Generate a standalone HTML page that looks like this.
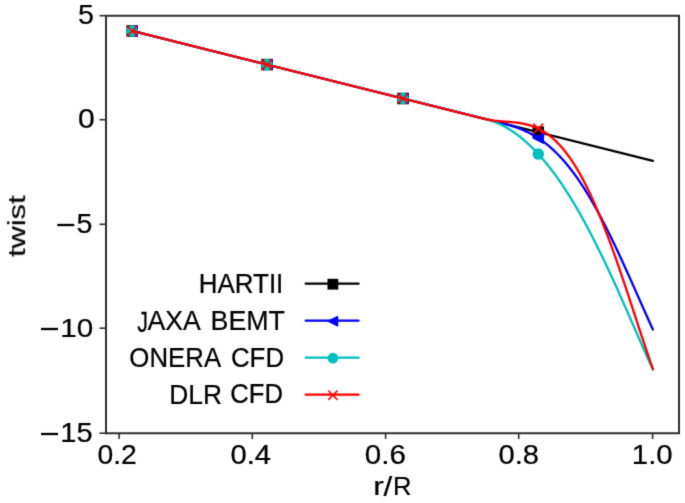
<!DOCTYPE html>
<html><head><meta charset="utf-8"><style>html,body{margin:0;padding:0;background:#fff;overflow:hidden}svg{display:block}text{font-family:"Liberation Sans",sans-serif}</style></head>
<body><svg width="685" height="503" viewBox="0 0 685 503">
<defs><filter id="bl" x="0" y="0" width="685" height="503" filterUnits="userSpaceOnUse" color-interpolation-filters="sRGB"><feConvolveMatrix order="3" kernelMatrix="0.01440 0.09120 0.01440 0.09120 0.57760 0.09120 0.01440 0.09120 0.01440" edgeMode="duplicate"/></filter></defs>
<g filter="url(#bl)"><rect width="685" height="503" fill="#fff"/>
<g><polyline points="132.20,30.98 652.90,160.79" fill="none" stroke="#000000" stroke-width="2.3" stroke-linejoin="round" stroke-linecap="round"/><rect x="127.20" y="25.98" width="10.00" height="10.00" fill="#000000" stroke="#000000" stroke-width="1.5" stroke-linejoin="miter"/><rect x="262.05" y="59.59" width="10.00" height="10.00" fill="#000000" stroke="#000000" stroke-width="1.5" stroke-linejoin="miter"/><rect x="398.00" y="93.49" width="10.00" height="10.00" fill="#000000" stroke="#000000" stroke-width="1.5" stroke-linejoin="miter"/><rect x="533.30" y="127.22" width="10.00" height="10.00" fill="#000000" stroke="#000000" stroke-width="1.5" stroke-linejoin="miter"/><polyline points="132.20,30.98 491.98,120.67 492.48,120.79 492.98,120.92 493.48,121.04 493.98,121.16 494.48,121.29 494.98,121.41 495.48,121.53 495.98,121.66 496.48,121.78 496.98,121.90 497.48,122.03 497.98,122.15 498.48,122.28 498.98,122.40 499.48,122.53 499.98,122.65 500.48,122.78 500.98,122.91 501.48,123.04 501.98,123.16 502.48,123.29 502.98,123.42 503.48,123.56 503.98,123.69 504.48,123.82 504.98,123.96 505.48,124.09 505.98,124.23 506.48,124.37 506.98,124.51 507.48,124.65 507.98,124.79 508.48,124.94 508.98,125.08 509.48,125.23 509.98,125.38 510.48,125.53 510.98,125.68 511.48,125.84 511.98,125.99 512.48,126.15 512.98,126.31 513.48,126.47 513.98,126.64 514.48,126.81 514.98,126.97 515.48,127.15 515.98,127.32 516.48,127.50 516.98,127.67 517.48,127.86 517.98,128.04 518.48,128.23 518.98,128.41 519.48,128.61 519.98,128.80 520.48,129.00 520.98,129.20 521.48,129.40 521.98,129.60 522.48,129.81 522.98,130.02 523.48,130.24 523.98,130.46 524.48,130.68 524.98,130.90 525.48,131.13 525.98,131.36 526.48,131.59 526.98,131.83 527.48,132.07 527.98,132.31 528.48,132.56 528.98,132.81 529.48,133.07 529.98,133.32 530.48,133.59 530.98,133.85 531.48,134.12 531.98,134.39 532.48,134.67 532.98,134.95 533.48,135.23 533.98,135.52 534.48,135.81 534.98,136.11 535.48,136.41 535.98,136.71 536.48,137.02 536.98,137.33 537.48,137.65 537.98,137.97 538.48,138.30 538.98,138.62 539.48,138.96 539.98,139.29 540.48,139.64 540.98,139.98 541.48,140.33 541.98,140.69 542.48,141.05 542.98,141.41 543.48,141.78 543.98,142.15 544.48,142.53 544.98,142.91 545.48,143.30 545.98,143.69 546.48,144.08 546.98,144.48 547.48,144.89 547.98,145.30 548.48,145.71 548.98,146.13 549.48,146.56 549.98,146.99 550.48,147.42 550.98,147.86 551.48,148.30 551.98,148.75 552.48,149.20 552.98,149.66 553.48,150.12 553.98,150.59 554.48,151.07 554.98,151.54 555.48,152.03 555.98,152.51 556.48,153.01 556.98,153.51 557.48,154.01 557.98,154.52 558.48,155.03 558.98,155.55 559.48,156.07 559.98,156.60 560.48,157.14 560.98,157.68 561.48,158.22 561.98,158.77 562.48,159.33 562.98,159.89 563.48,160.45 563.98,161.02 564.48,161.60 564.98,162.18 565.48,162.76 565.98,163.36 566.48,163.95 566.98,164.55 567.48,165.16 567.98,165.77 568.48,166.39 568.98,167.01 569.48,167.64 569.98,168.28 570.48,168.92 570.98,169.56 571.48,170.21 571.98,170.86 572.48,171.52 572.98,172.19 573.48,172.86 573.98,173.54 574.48,174.22 574.98,174.90 575.48,175.60 575.98,176.29 576.48,176.99 576.98,177.70 577.48,178.42 577.98,179.13 578.48,179.86 578.98,180.58 579.48,181.32 579.98,182.06 580.48,182.80 580.98,183.55 581.48,184.31 581.98,185.07 582.48,185.83 582.98,186.60 583.48,187.38 583.98,188.16 584.48,188.94 584.98,189.73 585.48,190.53 585.98,191.33 586.48,192.13 586.98,192.94 587.48,193.76 587.98,194.58 588.48,195.41 588.98,196.24 589.48,197.07 589.98,197.91 590.48,198.76 590.98,199.61 591.48,200.46 591.98,201.32 592.48,202.19 592.98,203.06 593.48,203.93 593.98,204.81 594.48,205.70 594.98,206.58 595.48,207.48 595.98,208.38 596.48,209.28 596.98,210.18 597.48,211.10 597.98,212.01 598.48,212.93 598.98,213.86 599.48,214.79 599.98,215.72 600.48,216.66 600.98,217.60 601.48,218.55 601.98,219.50 602.48,220.46 602.98,221.42 603.48,222.38 603.98,223.35 604.48,224.32 604.98,225.30 605.48,226.28 605.98,227.26 606.48,228.25 606.98,229.24 607.48,230.23 607.98,231.23 608.48,232.24 608.98,233.24 609.48,234.26 609.98,235.27 610.48,236.29 610.98,237.31 611.48,238.33 611.98,239.36 612.48,240.40 612.98,241.43 613.48,242.47 613.98,243.51 614.48,244.56 614.98,245.60 615.48,246.66 615.98,247.71 616.48,248.77 616.98,249.83 617.48,250.89 617.98,251.96 618.48,253.03 618.98,254.10 619.48,255.17 619.98,256.25 620.48,257.33 620.98,258.41 621.48,259.50 621.98,260.58 622.48,261.67 622.98,262.76 623.48,263.86 623.98,264.95 624.48,266.05 624.98,267.15 625.48,268.25 625.98,269.36 626.48,270.46 626.98,271.57 627.48,272.68 627.98,273.79 628.48,274.90 628.98,276.02 629.48,277.13 629.98,278.25 630.48,279.37 630.98,280.49 631.48,281.61 631.98,282.73 632.48,283.85 632.98,284.97 633.48,286.10 633.98,287.22 634.48,288.35 634.98,289.47 635.48,290.60 635.98,291.73 636.48,292.85 636.98,293.98 637.48,295.11 637.98,296.24 638.48,297.37 638.98,298.50 639.48,299.62 639.98,300.75 640.48,301.88 640.98,303.01 641.48,304.13 641.98,305.26 642.48,306.38 642.98,307.51 643.48,308.63 643.98,309.76 644.48,310.88 644.98,312.00 645.48,313.12 645.98,314.24 646.48,315.36 646.98,316.47 647.48,317.59 647.98,318.70 648.48,319.81 648.98,320.92 649.48,322.03 649.98,323.13 650.48,324.24 650.98,325.34 651.48,326.43 651.98,327.53 652.48,328.62 652.90,329.54" fill="none" stroke="#0000ff" stroke-width="2.3" stroke-linejoin="round" stroke-linecap="round"/><polygon points="127.20,30.98 137.20,25.98 137.20,35.98" fill="#0000ff" stroke="#0000ff" stroke-width="1.5" stroke-linejoin="round"/><polygon points="262.05,64.59 272.05,59.59 272.05,69.59" fill="#0000ff" stroke="#0000ff" stroke-width="1.5" stroke-linejoin="round"/><polygon points="398.00,98.49 408.00,93.49 408.00,103.49" fill="#0000ff" stroke="#0000ff" stroke-width="1.5" stroke-linejoin="round"/><polygon points="533.30,138.18 543.30,133.18 543.30,143.18" fill="#0000ff" stroke="#0000ff" stroke-width="1.5" stroke-linejoin="round"/><polyline points="132.20,30.98 486.08,119.20 486.58,119.32 487.08,119.45 487.58,119.59 488.08,119.73 488.58,119.87 489.08,120.02 489.58,120.17 490.08,120.32 490.58,120.48 491.08,120.65 491.58,120.81 492.08,120.98 492.58,121.16 493.08,121.34 493.58,121.52 494.08,121.71 494.58,121.90 495.08,122.10 495.58,122.29 496.08,122.50 496.58,122.70 497.08,122.92 497.58,123.13 498.08,123.35 498.58,123.57 499.08,123.80 499.58,124.03 500.08,124.27 500.58,124.51 501.08,124.75 501.58,125.00 502.08,125.25 502.58,125.50 503.08,125.76 503.58,126.02 504.08,126.29 504.58,126.56 505.08,126.84 505.58,127.11 506.08,127.40 506.58,127.68 507.08,127.97 507.58,128.27 508.08,128.57 508.58,128.87 509.08,129.18 509.58,129.49 510.08,129.80 510.58,130.12 511.08,130.44 511.58,130.77 512.08,131.10 512.58,131.43 513.08,131.77 513.58,132.11 514.08,132.46 514.58,132.81 515.08,133.16 515.58,133.52 516.08,133.89 516.58,134.25 517.08,134.62 517.58,135.00 518.08,135.37 518.58,135.76 519.08,136.14 519.58,136.53 520.08,136.93 520.58,137.33 521.08,137.73 521.58,138.14 522.08,138.55 522.58,138.96 523.08,139.38 523.58,139.80 524.08,140.23 524.58,140.66 525.08,141.09 525.58,141.53 526.08,141.97 526.58,142.42 527.08,142.87 527.58,143.33 528.08,143.79 528.58,144.25 529.08,144.72 529.58,145.19 530.08,145.66 530.58,146.14 531.08,146.63 531.58,147.11 532.08,147.61 532.58,148.10 533.08,148.60 533.58,149.10 534.08,149.61 534.58,150.12 535.08,150.64 535.58,151.16 536.08,151.69 536.58,152.21 537.08,152.75 537.58,153.28 538.08,153.82 538.58,154.37 539.08,154.92 539.58,155.47 540.08,156.03 540.58,156.59 541.08,157.16 541.58,157.73 542.08,158.30 542.58,158.88 543.08,159.46 543.58,160.05 544.08,160.64 544.58,161.23 545.08,161.83 545.58,162.43 546.08,163.04 546.58,163.65 547.08,164.27 547.58,164.89 548.08,165.51 548.58,166.14 549.08,166.77 549.58,167.41 550.08,168.05 550.58,168.69 551.08,169.34 551.58,169.99 552.08,170.65 552.58,171.31 553.08,171.98 553.58,172.65 554.08,173.32 554.58,174.00 555.08,174.68 555.58,175.36 556.08,176.05 556.58,176.75 557.08,177.45 557.58,178.15 558.08,178.86 558.58,179.57 559.08,180.28 559.58,181.00 560.08,181.72 560.58,182.45 561.08,183.18 561.58,183.92 562.08,184.66 562.58,185.40 563.08,186.15 563.58,186.90 564.08,187.66 564.58,188.42 565.08,189.18 565.58,189.95 566.08,190.72 566.58,191.50 567.08,192.28 567.58,193.06 568.08,193.85 568.58,194.65 569.08,195.44 569.58,196.24 570.08,197.05 570.58,197.86 571.08,198.67 571.58,199.49 572.08,200.31 572.58,201.13 573.08,201.96 573.58,202.79 574.08,203.63 574.58,204.47 575.08,205.32 575.58,206.17 576.08,207.02 576.58,207.87 577.08,208.73 577.58,209.60 578.08,210.47 578.58,211.34 579.08,212.21 579.58,213.09 580.08,213.98 580.58,214.87 581.08,215.76 581.58,216.65 582.08,217.55 582.58,218.45 583.08,219.36 583.58,220.27 584.08,221.18 584.58,222.10 585.08,223.02 585.58,223.95 586.08,224.87 586.58,225.81 587.08,226.74 587.58,227.68 588.08,228.62 588.58,229.57 589.08,230.52 589.58,231.47 590.08,232.43 590.58,233.39 591.08,234.36 591.58,235.32 592.08,236.29 592.58,237.27 593.08,238.25 593.58,239.23 594.08,240.21 594.58,241.20 595.08,242.19 595.58,243.19 596.08,244.18 596.58,245.18 597.08,246.19 597.58,247.20 598.08,248.21 598.58,249.22 599.08,250.24 599.58,251.26 600.08,252.28 600.58,253.31 601.08,254.33 601.58,255.37 602.08,256.40 602.58,257.44 603.08,258.48 603.58,259.52 604.08,260.57 604.58,261.62 605.08,262.67 605.58,263.73 606.08,264.78 606.58,265.84 607.08,266.91 607.58,267.97 608.08,269.04 608.58,270.11 609.08,271.18 609.58,272.26 610.08,273.34 610.58,274.42 611.08,275.50 611.58,276.58 612.08,277.67 612.58,278.76 613.08,279.85 613.58,280.95 614.08,282.04 614.58,283.14 615.08,284.24 615.58,285.35 616.08,286.45 616.58,287.56 617.08,288.66 617.58,289.77 618.08,290.89 618.58,292.00 619.08,293.11 619.58,294.23 620.08,295.35 620.58,296.47 621.08,297.59 621.58,298.72 622.08,299.84 622.58,300.97 623.08,302.09 623.58,303.22 624.08,304.35 624.58,305.49 625.08,306.62 625.58,307.75 626.08,308.89 626.58,310.02 627.08,311.16 627.58,312.30 628.08,313.43 628.58,314.57 629.08,315.71 629.58,316.85 630.08,317.99 630.58,319.14 631.08,320.28 631.58,321.42 632.08,322.56 632.58,323.71 633.08,324.85 633.58,326.00 634.08,327.14 634.58,328.28 635.08,329.43 635.58,330.57 636.08,331.72 636.58,332.86 637.08,334.00 637.58,335.15 638.08,336.29 638.58,337.43 639.08,338.57 639.58,339.72 640.08,340.86 640.58,342.00 641.08,343.14 641.58,344.27 642.08,345.41 642.58,346.55 643.08,347.68 643.58,348.82 644.08,349.95 644.58,351.08 645.08,352.22 645.58,353.34 646.08,354.47 646.58,355.60 647.08,356.72 647.58,357.85 648.08,358.97 648.58,360.09 649.08,361.20 649.58,362.32 650.08,363.43 650.58,364.54 651.08,365.65 651.58,366.76 652.08,367.86 652.58,368.96 652.90,369.67" fill="none" stroke="#00bfbf" stroke-width="2.3" stroke-linejoin="round" stroke-linecap="round"/><circle cx="132.20" cy="30.98" r="5.00" fill="#00bfbf" stroke="#00bfbf" stroke-width="1.5"/><circle cx="267.05" cy="64.59" r="5.00" fill="#00bfbf" stroke="#00bfbf" stroke-width="1.5"/><circle cx="403.00" cy="98.49" r="5.00" fill="#00bfbf" stroke="#00bfbf" stroke-width="1.5"/><circle cx="538.30" cy="154.07" r="5.00" fill="#00bfbf" stroke="#00bfbf" stroke-width="1.5"/><polyline points="132.20,30.98 485.38,119.02 485.88,119.14 486.38,119.26 486.88,119.38 487.38,119.49 487.88,119.59 488.38,119.69 488.88,119.79 489.38,119.89 489.88,119.98 490.38,120.06 490.88,120.15 491.38,120.23 491.88,120.31 492.38,120.38 492.88,120.45 493.38,120.52 493.88,120.59 494.38,120.65 494.88,120.72 495.38,120.78 495.88,120.83 496.38,120.89 496.88,120.94 497.38,120.99 497.88,121.04 498.38,121.09 498.88,121.14 499.38,121.18 499.88,121.23 500.38,121.27 500.88,121.31 501.38,121.35 501.88,121.39 502.38,121.43 502.88,121.47 503.38,121.51 503.88,121.54 504.38,121.58 504.88,121.62 505.38,121.65 505.88,121.69 506.38,121.73 506.88,121.76 507.38,121.80 507.88,121.84 508.38,121.87 508.88,121.91 509.38,121.95 509.88,121.99 510.38,122.03 510.88,122.08 511.38,122.12 511.88,122.16 512.38,122.21 512.88,122.25 513.38,122.30 513.88,122.35 514.38,122.41 514.88,122.46 515.38,122.51 515.88,122.57 516.38,122.63 516.88,122.69 517.38,122.76 517.88,122.82 518.38,122.89 518.88,122.96 519.38,123.04 519.88,123.11 520.38,123.19 520.88,123.28 521.38,123.36 521.88,123.45 522.38,123.54 522.88,123.64 523.38,123.74 523.88,123.84 524.38,123.94 524.88,124.05 525.38,124.17 525.88,124.28 526.38,124.40 526.88,124.53 527.38,124.66 527.88,124.79 528.38,124.93 528.88,125.07 529.38,125.21 529.88,125.36 530.38,125.52 530.88,125.68 531.38,125.84 531.88,126.01 532.38,126.19 532.88,126.37 533.38,126.55 533.88,126.74 534.38,126.93 534.88,127.13 535.38,127.34 535.88,127.55 536.38,127.76 536.88,127.99 537.38,128.21 537.88,128.45 538.38,128.68 538.88,128.93 539.38,129.18 539.88,129.44 540.38,129.70 540.88,129.97 541.38,130.24 541.88,130.52 542.38,130.81 542.88,131.10 543.38,131.40 543.88,131.71 544.38,132.02 544.88,132.34 545.38,132.67 545.88,133.00 546.38,133.34 546.88,133.69 547.38,134.04 547.88,134.40 548.38,134.77 548.88,135.15 549.38,135.53 549.88,135.92 550.38,136.31 550.88,136.72 551.38,137.13 551.88,137.55 552.38,137.97 552.88,138.41 553.38,138.85 553.88,139.30 554.38,139.75 554.88,140.22 555.38,140.69 555.88,141.17 556.38,141.65 556.88,142.15 557.38,142.65 557.88,143.16 558.38,143.68 558.88,144.21 559.38,144.74 559.88,145.29 560.38,145.84 560.88,146.40 561.38,146.96 561.88,147.54 562.38,148.12 562.88,148.72 563.38,149.32 563.88,149.92 564.38,150.54 564.88,151.17 565.38,151.80 565.88,152.44 566.38,153.09 566.88,153.75 567.38,154.42 567.88,155.10 568.38,155.78 568.88,156.48 569.38,157.18 569.88,157.89 570.38,158.61 570.88,159.34 571.38,160.07 571.88,160.82 572.38,161.57 572.88,162.33 573.38,163.11 573.88,163.89 574.38,164.67 574.88,165.47 575.38,166.28 575.88,167.09 576.38,167.92 576.88,168.75 577.38,169.59 577.88,170.44 578.38,171.30 578.88,172.16 579.38,173.04 579.88,173.92 580.38,174.82 580.88,175.72 581.38,176.63 581.88,177.55 582.38,178.48 582.88,179.41 583.38,180.36 583.88,181.31 584.38,182.28 584.88,183.25 585.38,184.23 585.88,185.21 586.38,186.21 586.88,187.22 587.38,188.23 587.88,189.25 588.38,190.28 588.88,191.32 589.38,192.37 589.88,193.43 590.38,194.49 590.88,195.56 591.38,196.64 591.88,197.73 592.38,198.83 592.88,199.94 593.38,201.05 593.88,202.17 594.38,203.30 594.88,204.44 595.38,205.58 595.88,206.74 596.38,207.90 596.88,209.07 597.38,210.25 597.88,211.43 598.38,212.62 598.88,213.82 599.38,215.03 599.88,216.25 600.38,217.47 600.88,218.70 601.38,219.94 601.88,221.18 602.38,222.44 602.88,223.70 603.38,224.96 603.88,226.24 604.38,227.52 604.88,228.80 605.38,230.10 605.88,231.40 606.38,232.71 606.88,234.02 607.38,235.34 607.88,236.67 608.38,238.01 608.88,239.35 609.38,240.69 609.88,242.05 610.38,243.41 610.88,244.77 611.38,246.14 611.88,247.52 612.38,248.90 612.88,250.29 613.38,251.68 613.88,253.08 614.38,254.49 614.88,255.90 615.38,257.31 615.88,258.73 616.38,260.16 616.88,261.59 617.38,263.03 617.88,264.46 618.38,265.91 618.88,267.36 619.38,268.81 619.88,270.27 620.38,271.73 620.88,273.20 621.38,274.67 621.88,276.14 622.38,277.62 622.88,279.10 623.38,280.58 623.88,282.07 624.38,283.56 624.88,285.05 625.38,286.55 625.88,288.05 626.38,289.55 626.88,291.06 627.38,292.56 627.88,294.07 628.38,295.59 628.88,297.10 629.38,298.61 629.88,300.13 630.38,301.65 630.88,303.17 631.38,304.69 631.88,306.21 632.38,307.74 632.88,309.26 633.38,310.79 633.88,312.31 634.38,313.84 634.88,315.37 635.38,316.89 635.88,318.42 636.38,319.94 636.88,321.47 637.38,322.99 637.88,324.52 638.38,326.04 638.88,327.56 639.38,329.09 639.88,330.60 640.38,332.12 640.88,333.64 641.38,335.15 641.88,336.66 642.38,338.17 642.88,339.68 643.38,341.18 643.88,342.69 644.38,344.18 644.88,345.68 645.38,347.17 645.88,348.66 646.38,350.14 646.88,351.62 647.38,353.09 647.88,354.57 648.38,356.03 648.88,357.49 649.38,358.95 649.88,360.40 650.38,361.84 650.88,363.28 651.38,364.72 651.88,366.14 652.38,367.56 652.88,368.98 652.90,369.05" fill="none" stroke="#ff0000" stroke-width="2.3" stroke-linejoin="round" stroke-linecap="round"/><path d="M127.20,25.98L137.20,35.98M127.20,35.98L137.20,25.98" stroke="#ff0000" stroke-width="1.60" fill="none" stroke-linecap="butt"/><path d="M262.05,59.59L272.05,69.59M262.05,69.59L272.05,59.59" stroke="#ff0000" stroke-width="1.60" fill="none" stroke-linecap="butt"/><path d="M398.00,93.49L408.00,103.49M398.00,103.49L408.00,93.49" stroke="#ff0000" stroke-width="1.60" fill="none" stroke-linecap="butt"/><path d="M533.30,123.65L543.30,133.65M533.30,133.65L543.30,123.65" stroke="#ff0000" stroke-width="1.60" fill="none" stroke-linecap="butt"/><path d="M106.0,14.8V434.3M679.0,14.8V434.3M105.0,15.8H680.0M105.0,433.3H680.0" stroke="#2e2e2e" stroke-width="2.0" fill="none"/><line x1="99.5" y1="15.7" x2="106.0" y2="15.7" stroke="#2e2e2e" stroke-width="1.6"/><line x1="99.5" y1="119.7" x2="106.0" y2="119.7" stroke="#2e2e2e" stroke-width="1.6"/><line x1="99.5" y1="224.3" x2="106.0" y2="224.3" stroke="#2e2e2e" stroke-width="1.6"/><line x1="99.5" y1="328.2" x2="106.0" y2="328.2" stroke="#2e2e2e" stroke-width="1.6"/><line x1="99.5" y1="433.2" x2="106.0" y2="433.2" stroke="#2e2e2e" stroke-width="1.6"/><line x1="119.1" y1="433.3" x2="119.1" y2="439.0" stroke="#2e2e2e" stroke-width="1.6"/><line x1="252.3" y1="433.3" x2="252.3" y2="439.0" stroke="#2e2e2e" stroke-width="1.6"/><line x1="385.6" y1="433.3" x2="385.6" y2="439.0" stroke="#2e2e2e" stroke-width="1.6"/><line x1="518.7" y1="433.3" x2="518.7" y2="439.0" stroke="#2e2e2e" stroke-width="1.6"/><line x1="652.6" y1="433.3" x2="652.6" y2="439.0" stroke="#2e2e2e" stroke-width="1.6"/></g>
<g style="will-change:transform" font-family="Liberation Sans" font-size="200" fill="#000" stroke="#000" stroke-width="1.8"><text transform="translate(77.955,23.727) scale(0.14316,0.13643)" >5</text><text transform="translate(77.996,127.731) scale(0.15053,0.13451)" >0</text><text transform="translate(76.555,232.531) scale(0.14316,0.13429)" >5</text><text transform="translate(60.180,336.834) scale(0.14800,0.13310)" >10</text><text transform="translate(60.222,442.029) scale(0.14523,0.13571)" >15</text><text transform="translate(97.468,463.730) scale(0.14154,0.13521)" >0.2</text><text transform="translate(230.533,463.730) scale(0.14583,0.13521)" >0.4</text><text transform="translate(364.820,463.730) scale(0.14751,0.13521)" >0.6</text><text transform="translate(498.535,463.730) scale(0.14559,0.13521)" >0.8</text><text transform="translate(631.794,463.730) scale(0.14706,0.13521)" >1.0</text><text transform="translate(373.146,494.500) scale(0.15800,0.13148)" >r</text><text transform="translate(383.600,496.022) scale(0.15636,0.13878)" >/</text><text transform="translate(392.953,494.500) scale(0.12797,0.13261)" >R</text><text transform="translate(24.767,256.861) scale(0.11633,0.15354) rotate(-90)">twist</text><text transform="translate(198.724,292.700) scale(0.12977,0.13696)" >HARTII</text><text transform="translate(137.278,332.297) scale(0.10732,0.15143)" >J</text><text transform="translate(147.467,330.100) scale(0.13317,0.13696)" >AXA</text><text transform="translate(210.556,329.800) scale(0.13402,0.13623)" >BEMT</text><text transform="translate(129.338,367.424) scale(0.12910,0.13803)" >ONERA</text><text transform="translate(230.906,367.424) scale(0.12941,0.13803)" >CFD</text><text transform="translate(169.291,403.500) scale(0.13182,0.13478)" >DLR</text><text transform="translate(230.316,403.431) scale(0.12839,0.13451)" >CFD</text></g>
<g><rect x="57.3" y="223.85" width="17.00" height="2.3" fill="#000"/><rect x="41.0" y="327.85" width="17.00" height="2.3" fill="#000"/><rect x="41.0" y="432.85" width="17.00" height="2.3" fill="#000"/></g>
<g><line x1="305.7" y1="283.7" x2="358.6" y2="283.7" stroke="#000000" stroke-width="2.3" stroke-linecap="round"/><rect x="328.25" y="279.55" width="9.30" height="9.30" fill="#000000" stroke="#000000" stroke-width="1.5" stroke-linejoin="miter"/><line x1="305.7" y1="320.7" x2="358.6" y2="320.7" stroke="#0000ff" stroke-width="2.3" stroke-linecap="round"/><polygon points="328.25,321.20 337.55,316.55 337.55,325.85" fill="#0000ff" stroke="#0000ff" stroke-width="1.5" stroke-linejoin="round"/><line x1="305.7" y1="357.7" x2="358.6" y2="357.7" stroke="#00bfbf" stroke-width="2.3" stroke-linecap="round"/><circle cx="332.90" cy="358.20" r="4.65" fill="#00bfbf" stroke="#00bfbf" stroke-width="1.5"/><line x1="305.7" y1="394.7" x2="358.6" y2="394.7" stroke="#ff0000" stroke-width="2.3" stroke-linecap="round"/><path d="M328.25,390.55L337.55,399.85M328.25,399.85L337.55,390.55" stroke="#ff0000" stroke-width="1.60" fill="none" stroke-linecap="butt"/></g>
</g></svg></body></html>
